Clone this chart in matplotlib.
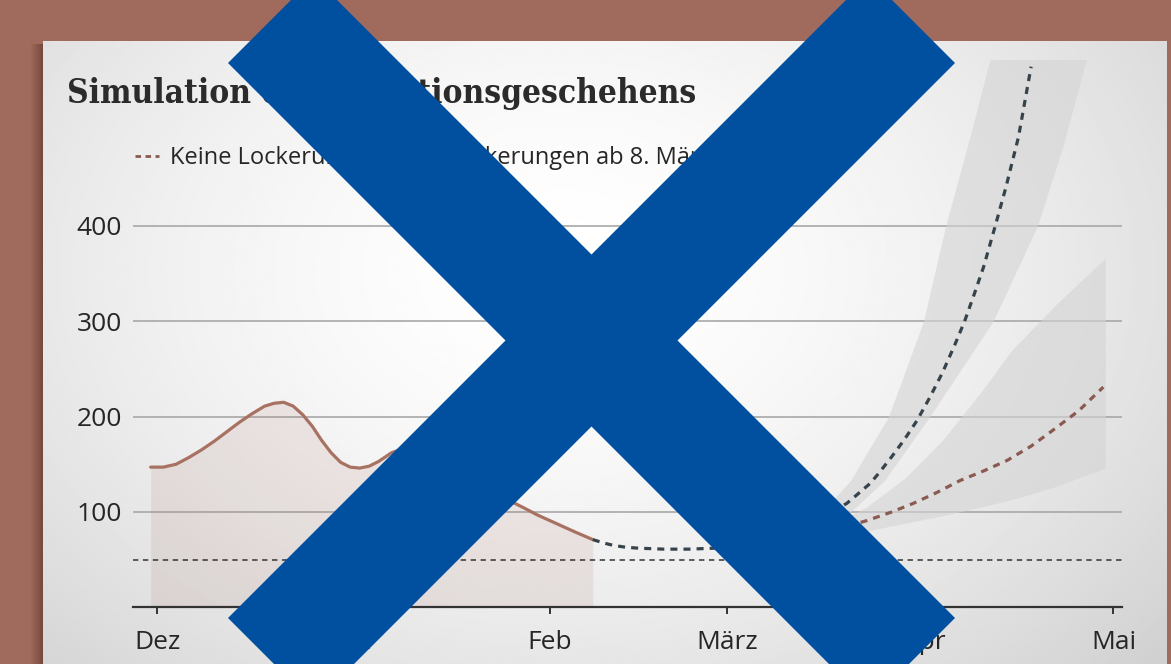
import numpy as np
import matplotlib.pyplot as plt
from matplotlib.lines import Line2D
from matplotlib.patches import Polygon, Rectangle

# days counted from 1 Dec
month_days = [0, 31, 62, 90, 121, 151]
month_labels = ['Dez', 'Jan', 'Feb', 'März', 'Apr', 'Mai']
y_ticks = [100, 200, 300, 400]

# observed incidence
obs_day = [-1, 1, 3, 5, 7, 9, 11, 13, 15, 17, 18.5, 20, 21.5, 23, 24.5, 26,
           27.5, 29, 30.5, 32, 33.5, 35, 37, 39, 41, 43, 45, 47, 49, 51, 53,
           55.6, 58, 60, 62, 64, 66, 68.8]
obs_val = [147, 147, 150, 157, 165, 174, 184, 194, 203, 211, 214, 215, 211,
           202, 190, 175, 162, 152, 147, 146, 148, 153, 162, 167, 168, 164,
           156, 146, 137, 128, 121, 112, 104, 97, 91, 85, 79, 71]

# forecast with Lockerungen ab 8. März (dark)
open_day = [68.8, 70.5, 72, 74, 76, 80, 84, 88, 92, 96, 98, 100, 102, 104, 106,
            108.9, 110.5, 112.6, 114, 116, 118, 120, 122, 124, 126, 127.5, 129,
            130.5, 132.3, 134, 136, 138]
open_val = [71, 67.5, 65, 63, 62, 61, 61, 62, 64, 67, 70, 75, 82, 90, 98, 109,
            118, 130, 141, 158, 176, 196, 220, 246, 276, 300, 328, 357, 399,
            440, 493, 567]

# forecast without Lockerungen (brown)
keep_day = [97, 101, 105, 108.5, 112.1, 116, 119.4, 123, 126.8, 130.5, 134.2,
            138, 141.5, 145.5, 149.4]
keep_val = [67, 72, 78, 84, 91, 100, 109, 120, 133, 143, 154, 169, 186, 206, 231]

# uncertainty ranges
open_hi_day = [97, 100, 105, 109.5, 115.5, 121, 124.5, 128, 131.5, 133]
open_hi_val = [67, 75, 100, 133, 200, 300, 400, 485, 574, 640]
open_lo_day = [97, 100, 105, 109.5, 116, 122, 128, 132, 136, 139, 141.5, 144,
               146.7, 148]
open_lo_val = [67, 72, 85, 100, 140, 200, 250, 300, 355, 400, 450, 505, 574, 640]

keep_band_day = [97, 100, 106, 112, 118, 124, 130, 135, 142, 149.7]
keep_hi_val = [67, 70, 85, 105, 135, 175, 225, 270, 318, 366]
keep_lo_val = [66, 67, 73, 80, 88, 96, 105, 113, 127, 146]

threshold = 50

W, H = 1171, 664
fig = plt.figure(figsize=(W / 100, H / 100), dpi=100)
fig.patch.set_facecolor('#a06a5c')

# shadow left of the card
for i in range(12):
    fig.add_artist(Rectangle(((31 + i) / W, 0), 1 / W, 1 - 44 / H,
                             transform=fig.transFigure, facecolor='#5a3428',
                             alpha=0.05 * (i + 1), lw=0))

# card with photo-like lighting
bg = fig.add_axes([43 / W, 0, 1124 / W, 1 - 41 / H])
yy, xx = np.mgrid[0:300, 0:500]
r = np.sqrt(((xx - 230) / 330.0) ** 2 + ((yy - 110) / 260.0) ** 2)
shade = np.clip(1.0 - 0.16 * r ** 1.6, 0.80, 1.0)
bg.imshow(shade, cmap='gray', vmin=0, vmax=1, aspect='auto',
          extent=[0, 1, 0, 1], origin='upper')
bg.set_axis_off()

ax = fig.add_axes([133 / W, 1 - 607.3 / H, 989 / W, 547.3 / H])
ax.patch.set_alpha(0)
ax.set_xlim(-3.79, 152.35)
ax.set_ylim(0, 574)

for v in y_ticks:
    ax.axhline(v, color='#a8a8a8', lw=1.2, zorder=1)

ax.axhline(threshold, color='#333333', lw=1.1, dashes=(3.5, 3), zorder=2)

ax.fill_between(obs_day, 0, obs_val, color='#a26b5c', alpha=0.12, lw=0, zorder=1)

ax.fill_betweenx(open_hi_val, open_hi_day, np.interp(open_hi_val, open_lo_val, open_lo_day),
                 color='#d4d4d4', alpha=0.6, lw=0, zorder=1)
ax.fill_between(keep_band_day, keep_lo_val, keep_hi_val,
                color='#d4d4d4', alpha=0.6, lw=0, zorder=1)

ax.plot(obs_day, obs_val, color='#a87263', lw=2.3, solid_capstyle='round',
        solid_joinstyle='round', zorder=4)
ax.plot(open_day, open_val, color='#36434b', lw=2.3, dashes=(2.2, 1.9), zorder=4)
ax.plot(keep_day, keep_val, color='#8a5a50', lw=2.3, dashes=(2.2, 1.9), zorder=4)

for s in ['left', 'right', 'top']:
    ax.spines[s].set_visible(False)
ax.spines['bottom'].set_color('#333333')
ax.spines['bottom'].set_linewidth(1.6)

ax.set_xticks(month_days)
ax.set_xticklabels(month_labels)
ax.set_yticks(y_ticks)
ax.tick_params(axis='x', length=5, width=1.4, color='#333333', pad=11,
               labelsize=19, labelcolor='#262626')
ax.tick_params(axis='y', length=0, pad=8, labelsize=19, labelcolor='#262626')
for lab in ax.get_xticklabels() + ax.get_yticklabels():
    lab.set_family('Open Sans')

fig.text(67 / W, 1 - 103 / H, 'Simulation des Infektionsgeschehens',
         family='DejaVu Serif', weight='bold', stretch='condensed', fontsize=24,
         color='#2b2b2b', ha='left', va='baseline')

handles = [Line2D([], [], color='#8a5a50', lw=2, dashes=(2, 1.6)),
           Line2D([], [], color='#36434b', lw=2, dashes=(2, 1.6))]
leg = fig.legend(handles, ['Keine Lockerungen', 'Lockerungen ab 8. März'],
                 loc='center left', bbox_to_anchor=(135 / W, 1 - 158 / H),
                 ncol=2, frameon=False, handlelength=1.0, handletextpad=0.5,
                 columnspacing=1.3, borderpad=0, borderaxespad=0,
                 prop={'family': 'Open Sans', 'size': 17})
for t in leg.get_texts():
    t.set_color('#262626')

# blue cross over the chart
cx, cy, a, h = 591.5, 340.5, 320.5, 43.0
for sgn in (1, -1):
    pts = []
    for s, t in [(-1, -1), (-1, 1), (1, 1), (1, -1)]:
        px = cx + s * a + t * h
        py = cy + sgn * (s * a - t * h)
        pts.append((px / W, 1 - py / H))
    fig.add_artist(Polygon(pts, closed=True, facecolor='#00509f',
                           edgecolor='none', transform=fig.transFigure, zorder=10))

fig.savefig('out.png', dpi=100)
